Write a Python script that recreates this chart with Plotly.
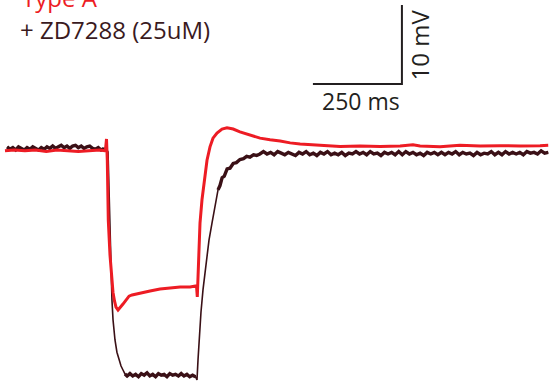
import plotly.graph_objects as go

# ---- data (time in ms, membrane potential in mV) ----
control_t = [14, 40, 70, 100, 130, 160, 190, 220, 250, 280, 296, 299.2, 301.4, 304.2, 309, 313.8,
             317.4, 321.6, 325.8, 331.5, 337, 345.5, 354, 362.5, 371, 393, 421.5, 449.5, 477.5,
             506, 534, 552, 554.2, 555.1, 561.8, 567.4, 571.1, 575.8, 581.5, 589.9, 598.3, 609.6,
             623.6, 637.6, 655, 674, 702.5, 730.5, 758.5, 787, 815, 843, 899, 955.5, 1011.5, 1068,
             1124, 1160, 1180, 1236, 1292, 1349, 1405, 1461, 1517, 1540]
control_v = [-65.1, -65.0, -65.1, -65.0, -65.2, -65.0, -65.1, -65.2, -65.1, -65.0, -65.1, -63.6,
             -66.3, -73.9, -78.3, -81.45, -83.0, -84.1, -84.9, -85.25, -85.0, -84.5, -84.0, -83.5,
             -83.35, -83.1, -82.85, -82.6, -82.45, -82.35, -82.35, -82.2, -83.6, -82.35, -74.25,
             -71.3, -70.05, -68.2, -66.3, -64.6, -63.5, -62.85, -62.35, -62.2, -62.35, -62.7,
             -63.1, -63.5, -63.7, -63.85, -64.1, -64.25, -64.4, -64.55, -64.5, -64.55, -64.5,
             -64.35, -64.5, -64.6, -64.4, -64.5, -64.45, -64.5, -64.45, -64.4]

zd_t = [20, 28, 36, 44, 52, 60, 68, 76, 84, 92, 100, 108, 116, 124, 132, 140, 148, 156, 164, 172,
        180, 188, 196, 204, 212, 220, 228, 236, 244, 252, 260, 268, 276, 284, 292,
        298, 303.5, 306, 309, 312, 314.5, 317.5, 323, 328.5, 334, 340, 345.5, 351, 357,
        365, 373, 381, 389, 397, 405, 413, 421, 429, 437, 445, 453, 461, 469, 477, 485, 493,
        501, 509, 517, 525, 533, 541, 549,
        553.4, 556.2, 559, 564.6, 570.2, 578.7, 587.1, 595.5, 604, 612.4, 618, 624, 630, 638,
        646, 655, 664, 674, 684, 693, 702, 712, 721, 730,
        740, 750, 760, 770, 780, 790, 800, 810, 820, 830,
        840, 850, 860, 870, 880, 890, 900, 910, 920, 930,
        940, 950, 960, 970, 980, 990, 1000, 1010, 1020, 1030,
        1040, 1050, 1060, 1070, 1080, 1090, 1100, 1110, 1120, 1130,
        1140, 1150, 1160, 1170, 1180, 1190, 1200, 1210, 1220, 1230,
        1240, 1250, 1260, 1270, 1280, 1290, 1300, 1310, 1320, 1330,
        1340, 1350, 1360, 1370, 1380, 1390, 1400, 1410, 1420, 1430,
        1440, 1450, 1460, 1470, 1480, 1490, 1500, 1510, 1520, 1530,
        1540]
zd_v = [-64.6, -64.9, -64.7, -65.0, -64.6, -64.8, -65.0, -64.7, -64.9, -64.6, -64.8, -65.0,
        -64.7, -64.9, -64.6, -64.8, -64.5, -64.8, -64.6, -64.4, -64.7, -64.5, -64.8, -64.5,
        -64.4, -64.7, -64.5, -64.8, -64.6, -64.5, -64.8, -64.9, -64.7, -65.0, -64.8,
        -64.8, -65.25, -70.05, -75.1, -79.55, -84.0, -86.5, -89.05, -90.6, -91.6, -92.35,
        -92.85, -93.35, -93.6,
        -93.3, -93.6, -93.4, -93.7, -93.3, -93.5, -93.2, -93.6, -93.4, -93.7, -93.3, -93.5,
        -93.4, -93.7, -93.3, -93.5, -93.4, -93.6, -93.3, -93.6, -93.4, -93.7, -93.5, -93.7,
        -94.1, -91.6, -89.05, -85.5, -82.7, -79.2, -76.4, -74.25, -72.0, -70.05, -69.5, -68.5,
        -68.3, -67.4, -67.3, -66.7, -66.6, -66.2, -66.1, -65.8, -65.9, -65.6, -65.7, -65.5,
        -65.2, -65.5, -65.3, -65.6, -65.2, -65.4, -65.6, -65.3, -65.5, -65.7,
        -65.3, -65.5, -65.2, -65.6, -65.4, -65.7, -65.3, -65.5, -65.2, -65.6,
        -65.4, -65.6, -65.3, -65.7, -65.4, -65.5, -65.2, -65.5, -65.3, -65.6,
        -65.2, -65.5, -65.4, -65.7, -65.3, -65.5, -65.3, -65.6, -65.2, -65.6,
        -65.2, -65.5, -65.3, -65.6, -65.4, -65.7, -65.3, -65.5, -65.3, -65.6,
        -65.3, -65.6, -65.3, -65.5, -65.2, -65.6, -65.3, -65.5, -65.4, -65.7,
        -65.3, -65.6, -65.4, -65.5, -65.2, -65.6, -65.3, -65.6, -65.2, -65.5,
        -65.3, -65.5, -65.3, -65.6, -65.2, -65.4, -65.3, -65.5, -65.1, -65.4,
        -65.3]

# scale bar: 250 ms horizontal, 10 mV vertical
scalebar_t = [879, 1129, 1129]
scalebar_v = [-56.65, -56.65, -46.65]

labels = ["Type A", "+ ZD7288 (25uM)", "250 ms", "10 mV"]

RED = "#ED1C24"
DARK = "#3A1016"
W, H = 553, 388

fig = go.Figure()
# thin trace for the whole ZD7288 recording
fig.add_trace(go.Scatter(x=zd_t, y=zd_v, mode="lines",
                         line=dict(color=DARK, width=1.6), hoverinfo="skip"))
# thicker overlay on the noisy, flat stretches (noise band appearance)
noisy_windows = [(0, 295), (348, 552), (608, 2000)]
for lo, hi in noisy_windows:
    seg = [(t, v) for t, v in zip(zd_t, zd_v) if lo <= t <= hi]
    fig.add_trace(go.Scatter(x=[s[0] for s in seg], y=[s[1] for s in seg], mode="lines",
                             line=dict(color=DARK, width=3.4), hoverinfo="skip"))
fig.add_trace(go.Scatter(x=control_t, y=control_v, mode="lines",
                         line=dict(color=RED, width=3), hoverinfo="skip"))
fig.add_trace(go.Scatter(x=scalebar_t, y=scalebar_v, mode="lines",
                         line=dict(color="#231F20", width=2), hoverinfo="skip"))

font = "Open Sans, Noto Sans, sans-serif"
def px(x):
    return x / W
def py(y):
    return 1 - y / H

ann = [
    dict(text=labels[0], x=px(20), y=py(-3), xanchor="left", yanchor="middle",
         font=dict(color=RED, size=24, family=font)),
    dict(text=labels[1], x=px(18), y=py(30), xanchor="left", yanchor="middle",
         font=dict(color="#3A1A1E", size=24, family=font)),
    dict(text=labels[2], x=px(361), y=py(101), xanchor="center", yanchor="middle",
         font=dict(color="#231F20", size=23, family=font)),
    dict(text=labels[3], x=px(419), y=py(45.5), xanchor="center", yanchor="middle",
         textangle=-90, font=dict(color="#231F20", size=24, family=font)),
]
for a in ann:
    a.update(xref="paper", yref="paper", showarrow=False)

fig.update_layout(
    width=W, height=H, margin=dict(l=0, r=0, t=0, b=0),
    paper_bgcolor="white", plot_bgcolor="white", showlegend=False,
    xaxis=dict(range=[0, 1553.4], visible=False, fixedrange=True),
    yaxis=dict(range=[-95.127, -46.013], visible=False, fixedrange=True),
    annotations=ann,
)
fig.write_html("out.html")
